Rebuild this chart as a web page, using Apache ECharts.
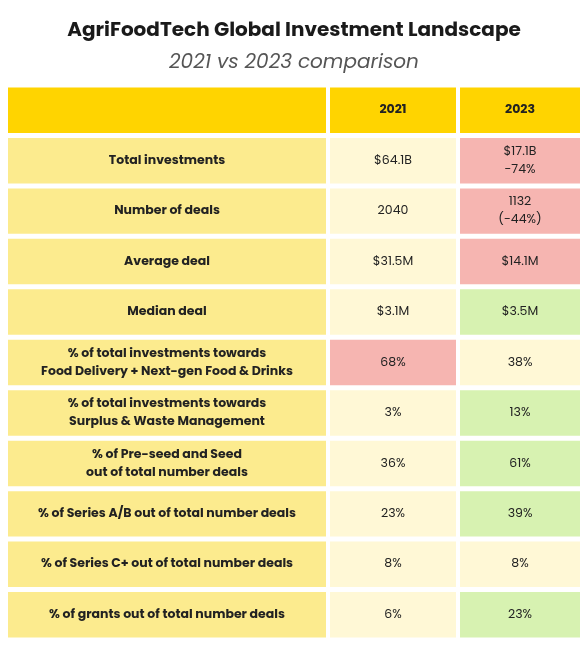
<!DOCTYPE html>
<html><head><meta charset="utf-8">
<script src="https://cdn.jsdelivr.net/npm/echarts@6/dist/echarts.min.js"></script>
<style>html,body{margin:0;padding:0;background:#fff}#c{width:588px;height:655px}</style>
</head><body><div id="c"></div>
<script>
const headers = ["", "2021", "2023"];
const rowLabels = [
  "Total investments",
  "Number of deals",
  "Average deal",
  "Median deal",
  "% of total investments towards\nFood Delivery + Next-gen Food & Drinks",
  "% of total investments towards\nSurplus & Waste Management",
  "% of Pre-seed and Seed\nout of total number deals",
  "% of Series A/B out of total number deals",
  "% of Series C+ out of total number deals",
  "% of grants out of total number deals"
];
const values2021 = ["$64.1B","2040","$31.5M","$3.1M","68%","3%","36%","23%","8%","6%"];
const values2023 = ["$17.1B\n-74%","1132\n(-44%)","$14.1M","$3.5M","38%","13%","61%","39%","8%","23%"];
const status2021 = ["n","n","n","n","r","n","n","n","n","n"];
const status2023 = ["r","r","r","g","n","g","g","g","n","g"];

const colors = {h:"#FFD400", l:"#FCEB8E", n:"#FFF8D6", r:"#F6B5B1", g:"#D7F2B1"};
const edges = [0, 318, 322, 448, 452, 572];
const cats = ["h"].concat(rowLabels.map((_, i) => "r" + i));
const data = [];
headers.forEach((t, c) => data.push([c, 0, t, "h", true]));
rowLabels.forEach((t, i) => {
  data.push([0, i + 1, t, "l", true]);
  data.push([1, i + 1, values2021[i], status2021[i], false]);
  data.push([2, i + 1, values2023[i], status2023[i], false]);
});

const chart = echarts.init(document.getElementById('c'));
chart.setOption({
  animation: false,
  title: {
    text: "AgriFoodTech Global Investment Landscape",
    subtext: "2021 vs 2023 comparison",
    left: "center", top: 16, itemGap: 12,
    textStyle: {fontFamily: "Poppins, 'Open Sans', sans-serif", fontSize: 20, fontWeight: "bold", color: "#1a1a1a"},
    subtextStyle: {fontFamily: "Poppins, 'Open Sans', sans-serif", fontSize: 20, fontStyle: "italic", color: "#555"}
  },
  grid: {left: 8, right: 8, top: 85, bottom: 15},
  xAxis: {type: "value", min: 0, max: 572, show: false},
  yAxis: {type: "category", data: cats, inverse: true, show: false},
  series: [{
    type: "custom",
    data: data,
    renderItem: function (params, api) {
      const col = api.value(0), row = api.value(1);
      const x0 = col === 0 ? edges[0] : edges[col * 2];
      const x1 = col === 0 ? edges[1] : edges[col * 2 + 1];
      const p0 = api.coord([x0, row]);
      const p1 = api.coord([x1, row]);
      const h = api.size([0, 1])[1];
      const gap = 5;
      const item = data[params.dataIndex];
      const y = p0[1] - h / 2 + gap / 2;
      return {
        type: "group",
        children: [
          {type: "rect", shape: {x: p0[0], y: y, width: p1[0] - p0[0], height: h - gap},
           style: {fill: colors[item[3]]}},
          {type: "text", x: (p0[0] + p1[0]) / 2, y: p0[1],
           style: {text: item[2], align: "center", verticalAlign: "middle",
             fontFamily: "Poppins, 'Open Sans', sans-serif", fontSize: 12.5, lineHeight: 18,
             fontWeight: item[4] ? "bold" : "normal", fill: "#222"}}
        ]
      };
    }
  }]
});
</script></body></html>
